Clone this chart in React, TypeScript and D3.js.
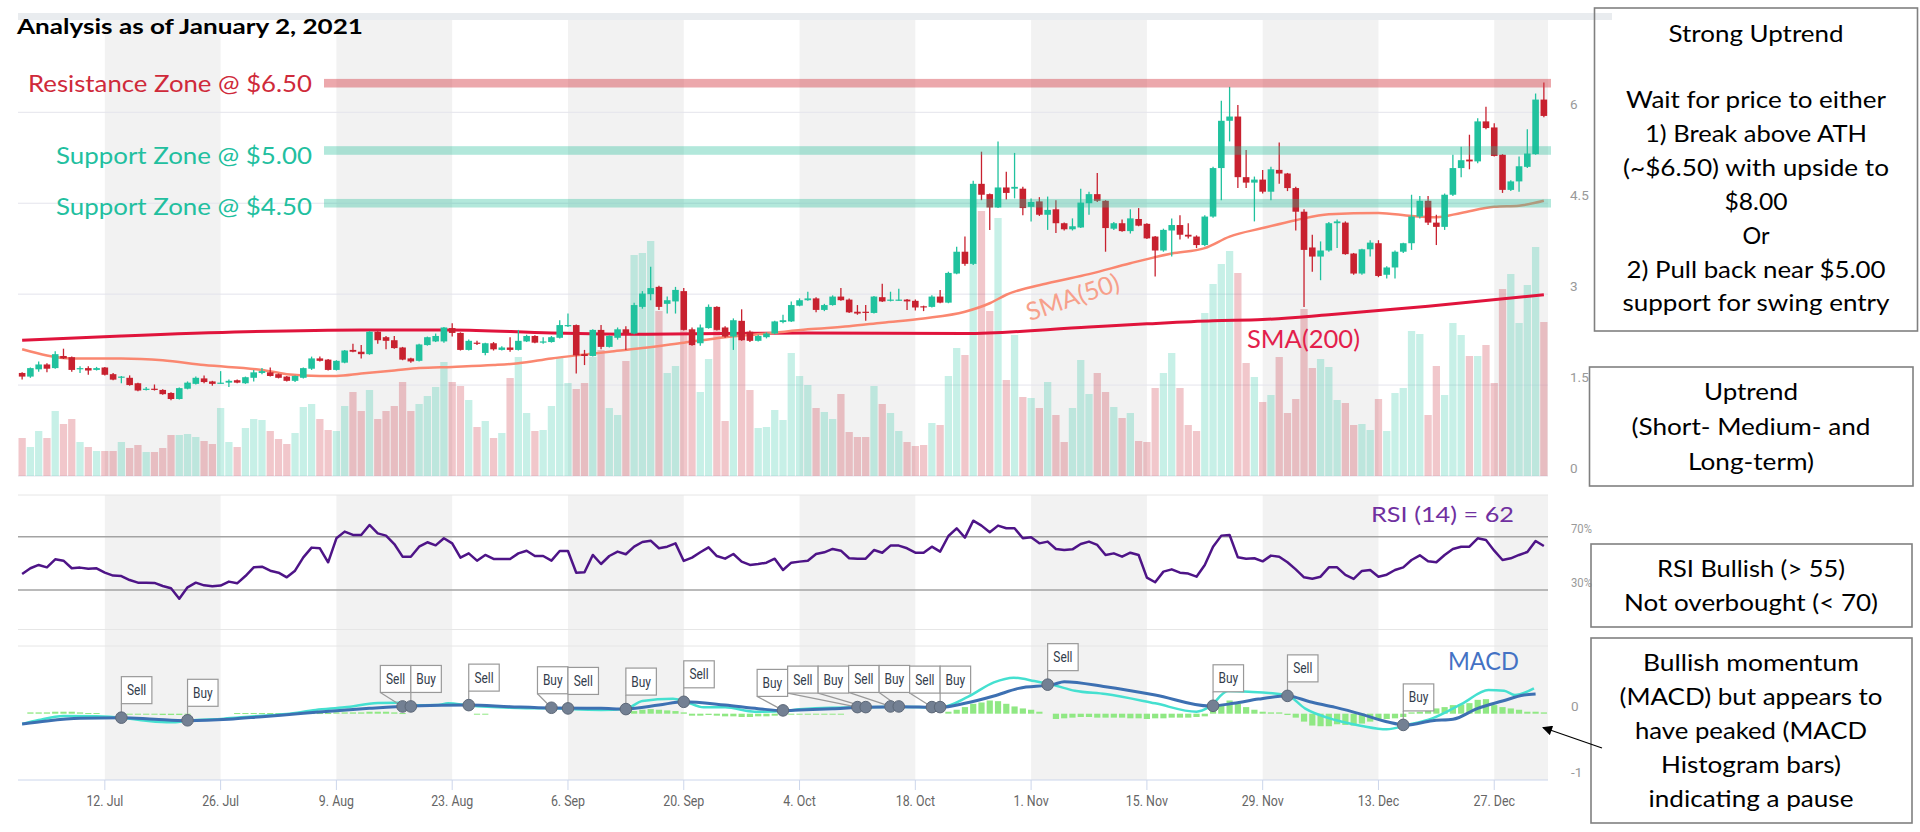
import React from 'react';
import * as d3 from 'd3';

// ---------------- DATA ----------------
const START = Date.UTC(2020, 6, 2); // first candle: 2 Jul 2020
const DAY = 86400000;

const opens = [1.70,1.64,1.76,1.84,1.78,1.98,1.96,1.76,1.78,1.75,1.79,1.68,1.62,1.62,1.53,1.42,1.44,1.42,1.37,1.27,1.44,1.52,1.61,1.56,1.53,1.54,1.58,1.53,1.62,1.70,1.71,1.68,1.64,1.57,1.62,1.77,1.94,1.92,1.75,1.87,2.08,2.05,2.01,2.38,2.29,2.24,2.12,1.94,1.90,2.16,2.22,2.22,2.44,2.36,2.08,2.20,2.03,2.19,2.08,2.12,2.08,2.22,2.31,2.20,2.21,2.28,2.48,2.49,2.01,1.98,2.41,2.13,2.28,2.42,2.35,2.79,3.00,3.12,2.84,2.88,3.05,2.42,2.19,2.44,2.79,2.45,2.30,2.56,2.38,2.23,2.29,2.35,2.54,2.55,2.81,2.90,2.93,2.74,2.82,2.96,2.91,2.71,2.71,2.69,2.95,2.89,2.90,2.91,2.89,2.80,2.79,2.96,2.86,3.34,3.70,3.50,4.82,4.65,4.43,4.76,4.74,4.74,4.44,4.53,4.31,4.40,4.17,4.07,4.10,4.50,4.65,4.54,4.08,4.17,4.04,4.24,4.16,3.95,3.72,4.05,4.14,3.98,3.95,3.81,4.28,5.08,5.86,5.93,4.93,4.84,4.89,4.69,5.05,4.99,4.75,4.36,3.77,3.62,3.72,4.17,4.18,3.67,3.34,3.74,3.84,3.32,3.44,3.70,3.84,4.28,4.54,4.18,4.11,4.64,5.08,5.22,5.19,5.85,5.75,5.30,4.72,4.86,5.10,5.31,6.21];
const highs = [1.71,1.79,1.89,1.86,2.06,2.10,1.97,1.81,1.81,1.80,1.80,1.70,1.65,1.66,1.54,1.47,1.51,1.43,1.38,1.46,1.56,1.64,1.66,1.57,1.73,1.59,1.59,1.64,1.75,1.78,1.79,1.69,1.65,1.66,1.79,1.97,1.97,1.93,1.91,2.08,2.18,2.16,2.39,2.39,2.31,2.31,2.13,1.95,2.18,2.30,2.35,2.46,2.52,2.37,2.25,2.23,2.20,2.21,2.14,2.29,2.41,2.33,2.32,2.29,2.31,2.57,2.68,2.50,2.08,2.42,2.49,2.32,2.45,2.47,2.86,3.05,3.45,3.14,2.96,3.12,3.10,2.45,2.50,2.83,2.80,2.47,2.60,2.75,2.40,2.33,2.37,2.56,2.66,2.88,2.93,3.04,2.95,2.84,2.98,3.10,2.93,2.82,2.82,2.97,3.17,3.04,3.09,2.92,2.91,2.81,2.98,3.07,3.37,3.78,3.95,4.87,5.35,4.66,5.52,5.02,5.33,4.77,4.58,4.60,4.61,4.55,4.18,4.25,4.74,4.69,5.00,4.55,4.19,4.23,4.40,4.42,4.17,3.96,4.08,4.25,4.30,4.17,3.97,4.30,5.10,6.19,6.42,6.12,5.38,4.94,5.05,5.10,5.50,5.00,4.77,4.40,3.98,3.87,4.19,4.23,4.20,3.68,3.75,3.89,3.89,3.46,3.72,3.85,4.64,4.62,4.62,4.31,4.66,5.30,5.43,5.63,5.90,6.09,5.82,5.31,4.88,5.27,5.72,6.31,6.49];
const lows = [1.59,1.62,1.72,1.71,1.77,1.93,1.72,1.70,1.67,1.74,1.66,1.58,1.53,1.49,1.40,1.41,1.41,1.34,1.25,1.26,1.43,1.51,1.53,1.49,1.52,1.47,1.53,1.52,1.56,1.68,1.64,1.61,1.56,1.55,1.61,1.75,1.89,1.74,1.74,1.86,2.04,1.94,2.00,2.18,2.09,2.10,1.91,1.87,1.89,2.15,2.21,2.20,2.30,2.07,2.07,2.16,1.99,2.07,2.07,2.05,2.07,2.21,2.19,2.18,2.20,2.27,2.46,1.69,1.83,1.97,2.09,2.12,2.25,2.08,2.34,2.76,2.90,2.74,2.68,2.68,2.40,2.15,2.15,2.43,2.40,2.28,2.08,2.23,2.21,2.22,2.27,2.34,2.52,2.54,2.80,2.89,2.70,2.72,2.81,2.89,2.69,2.66,2.56,2.68,2.87,2.88,2.89,2.74,2.73,2.72,2.78,2.85,2.85,3.33,3.47,3.48,4.55,4.06,4.42,4.56,4.58,4.30,4.20,4.29,4.06,4.01,4.05,4.05,4.09,4.31,4.52,3.70,4.06,4.03,4.00,4.12,3.91,3.29,3.70,3.62,3.90,3.92,3.76,3.79,4.26,4.55,5.52,4.75,4.75,4.20,4.66,4.55,4.82,4.70,4.05,2.79,3.37,3.23,3.70,3.76,3.65,3.32,3.32,3.62,3.28,3.26,3.26,3.68,3.73,4.25,4.14,3.81,4.06,4.62,4.93,5.06,5.16,5.72,5.27,4.67,4.70,4.69,5.08,5.30,5.92];
const closes = [1.64,1.78,1.84,1.77,2.01,1.94,1.75,1.78,1.74,1.78,1.67,1.59,1.64,1.50,1.41,1.44,1.42,1.35,1.27,1.45,1.54,1.62,1.55,1.52,1.54,1.57,1.54,1.63,1.71,1.73,1.65,1.62,1.57,1.65,1.78,1.94,1.90,1.75,1.90,2.07,2.05,2.01,2.38,2.24,2.23,2.11,1.92,1.89,2.17,2.29,2.31,2.45,2.36,2.08,2.23,2.18,2.19,2.09,2.12,2.08,2.23,2.31,2.20,2.22,2.29,2.49,2.49,1.99,1.98,2.41,2.13,2.31,2.42,2.35,2.82,3.01,3.10,2.79,2.90,3.07,2.41,2.16,2.45,2.79,2.41,2.30,2.57,2.24,2.23,2.31,2.35,2.55,2.57,2.82,2.90,2.93,2.74,2.82,2.96,2.90,2.70,2.68,2.69,2.96,2.88,2.91,2.91,2.88,2.78,2.78,2.96,2.86,3.35,3.70,3.50,4.82,4.64,4.43,4.76,4.67,4.77,4.42,4.52,4.31,4.39,4.17,4.07,4.12,4.51,4.65,4.54,4.09,4.17,4.04,4.25,4.13,3.92,3.72,4.06,4.14,3.98,3.95,3.81,4.28,5.08,5.86,5.93,4.93,4.84,4.89,4.69,5.06,4.99,4.75,4.36,3.73,3.62,3.72,4.17,4.20,3.66,3.34,3.74,3.85,3.30,3.44,3.70,3.84,4.28,4.54,4.18,4.11,4.64,5.08,5.21,5.19,5.85,5.74,5.28,4.72,4.86,5.11,5.32,6.21,5.94];
const volumes = [38,29,45,38,65,52,57,34,29,25,25,25,34,28,31,24,24,28,41,41,42,39,35,32,68,34,29,48,57,56,45,37,32,43,69,72,57,46,45,70,84,65,86,57,65,70,94,65,72,80,89,114,94,90,76,49,55,38,43,98,119,63,45,46,70,119,93,87,93,119,126,68,61,115,221,223,235,165,103,110,146,131,84,117,146,55,144,141,86,48,49,66,56,123,100,91,68,64,57,82,44,39,39,90,72,63,45,34,30,31,53,51,100,128,121,213,265,165,258,96,141,79,78,68,94,61,34,68,116,82,103,84,69,58,63,35,34,88,103,123,88,51,45,163,192,212,225,203,113,99,74,81,119,63,77,167,108,117,109,76,73,51,52,46,77,45,83,88,145,142,61,110,81,153,141,120,120,131,93,187,202,153,191,229,154];

const rsi = [42.0,46.3,48.8,47.0,53.0,52.0,46.3,46.8,46.0,46.3,43.0,40.8,40.5,37.5,35.5,35.5,35.3,33.0,31.3,23.5,32.0,35.5,33.5,32.8,33.3,36.3,35.0,40.5,47.0,47.5,44.5,43.0,39.5,44.5,54.5,61.8,61.3,50.8,68.8,73.8,71.3,71.3,78.8,72.5,70.8,64.5,55.0,55.0,62.5,65.8,63.5,68.8,65.0,54.3,57.5,52.0,56.3,53.3,53.3,53.3,57.5,59.5,55.5,55.5,52.0,59.3,59.3,43.0,43.3,56.3,49.5,55.5,58.8,56.8,62.5,66.0,67.0,61.3,62.5,65.0,51.8,54.3,58.3,62.0,55.5,53.5,57.0,51.3,48.8,49.5,50.5,53.5,45.0,50.5,51.3,52.0,57.0,58.3,60.8,59.5,53.8,53.5,53.5,60.0,58.0,63.3,63.3,61.3,58.0,58.0,62.5,58.8,70.5,76.3,69.3,82.0,78.3,73.3,78.3,76.3,76.3,68.8,69.5,65.0,66.3,60.8,60.0,60.5,64.5,66.3,63.8,56.3,57.5,55.0,58.0,56.3,39.3,35.8,43.8,45.5,43.0,42.3,40.0,48.8,62.5,70.8,71.3,54.5,53.5,53.8,51.5,55.8,55.0,50.8,45.5,39.5,38.5,40.0,47.0,47.0,41.3,38.3,44.3,45.0,40.0,41.5,45.0,47.0,52.5,56.0,51.5,50.8,56.3,60.8,62.5,62.5,68.8,67.5,59.5,52.5,53.8,56.3,58.5,66.8,63.0];

const histogram = [0.00,0.02,0.02,0.02,0.03,0.03,0.03,0.02,0.01,0.01,0.00,0.00,0.00,-0.01,-0.01,-0.01,-0.01,-0.02,-0.02,-0.02,-0.01,0.00,0.00,0.00,0.00,0.00,0.01,0.01,0.01,0.01,0.01,0.01,0.00,0.00,0.01,0.01,0.01,0.01,0.02,0.02,0.02,0.02,0.03,0.03,0.03,0.02,0.01,0.00,0.00,0.00,0.00,0.00,0.00,0.00,0.00,-0.01,-0.01,0.00,0.00,0.00,0.00,0.00,0.00,0.00,0.00,0.00,0.00,0.00,0.00,0.00,0.00,0.00,0.00,0.02,0.04,0.06,0.07,0.06,0.05,0.04,0.02,-0.03,-0.03,-0.02,-0.03,-0.04,-0.04,-0.05,-0.05,-0.04,-0.04,-0.03,-0.01,-0.01,-0.01,-0.01,-0.01,-0.01,-0.01,-0.01,0.00,0.00,0.00,0.00,0.00,0.00,0.00,0.00,0.00,0.00,0.00,0.00,0.03,0.06,0.10,0.15,0.17,0.20,0.19,0.15,0.11,0.08,0.06,0.03,0.00,-0.08,-0.07,-0.06,-0.05,-0.05,-0.06,-0.06,-0.06,-0.06,-0.07,-0.07,-0.08,-0.07,-0.07,-0.06,-0.06,-0.06,-0.05,-0.04,0.05,0.12,0.20,0.15,0.10,0.06,0.03,0.02,0.02,-0.02,-0.06,-0.12,-0.18,-0.19,-0.19,-0.16,-0.17,-0.18,-0.15,-0.12,-0.09,-0.08,-0.07,-0.05,0.02,0.03,0.05,0.08,0.10,0.13,0.14,0.16,0.21,0.22,0.13,0.10,0.08,0.06,0.03,0.03,0.02];

const macdIdx = [0,2,5,9,12,15,18,20,24.4,28,32,35.5,39,43,45.4,47,50.3,51.5,54,59,62.6,64,66.7,70,73,75,78.7,80.2,82.4,85,88.6,92.4,94,97.7,102,105,111,114.4,117.5,119.9,122.4,124.7,127.3,131,137,142,143.6,145.8,148.3,152.9,155.1,158.8,162,165,167.4,170.5,174.2,177.3,179.2,180.5,182.8];
const macdVal = [-0.156,-0.096,-0.035,-0.04,-0.06,-0.106,-0.131,-0.106,-0.075,-0.04,-0.005,0.056,0.096,0.162,0.167,0.126,0.131,0.157,0.126,0.091,0.081,0.086,0.066,0.056,0.076,0.192,0.227,0.182,0.096,0.096,0.030,0.046,0.066,0.091,0.096,0.106,0.096,0.258,0.475,0.545,0.495,0.434,0.348,0.298,0.157,0.030,0.106,0.343,0.333,0.283,0.081,-0.096,-0.187,-0.237,-0.172,-0.070,0.157,0.359,0.348,0.283,0.384];
const signalIdx = [0,3,7,12,16,20,25,29,34,38,42,47,54,59,64,70,73,77,80,85,89,92,94,98,102,106,111,114,117.5,120.5,124.7,126,131,137,143.6,146.5,149.5,153,155.7,158.8,162,165,167.4,170.5,173,176,179,181.6,183];
const signalVal = [-0.156,-0.11,-0.07,-0.06,-0.085,-0.106,-0.085,-0.045,0.005,0.046,0.081,0.116,0.131,0.106,0.086,0.081,0.071,0.131,0.182,0.131,0.076,0.046,0.056,0.076,0.096,0.106,0.096,0.157,0.268,0.384,0.444,0.485,0.409,0.283,0.116,0.157,0.222,0.268,0.182,0.096,-0.010,-0.121,-0.172,-0.106,-0.085,0.081,0.192,0.283,0.30];

const sma50Idx = [0,6,12,17,22,29,32,36,38,41,45,48,52,57,60,64,67,71,75,80,85,90,95,100,104,109,114,117,119,124,129,134,139,143,146,150,154,158,164,168,171,174,178,181,184];
const sma50Val = [2.09,1.94,1.94,1.91,1.83,1.75,1.68,1.65,1.65,1.69,1.74,1.78,1.80,1.83,1.86,1.94,1.99,2.05,2.11,2.20,2.29,2.35,2.42,2.47,2.53,2.60,2.71,2.85,2.99,3.18,3.33,3.51,3.67,3.76,3.95,4.09,4.22,4.32,4.34,4.29,4.27,4.34,4.44,4.46,4.54];
const sma200Idx = [0,12,27,41,52,64,75,95,114,129,136,144,150,158,170,184];
const sma200Val = [2.24,2.31,2.38,2.41,2.41,2.36,2.34,2.36,2.35,2.46,2.51,2.56,2.58,2.66,2.80,2.99];

const flagTypes = ['Sell','Buy','Sell','Buy','Sell','Buy','Sell','Buy','Sell','Buy','Sell','Buy','Sell','Buy','Sell','Buy','Sell','Buy','Sell','Buy'];
const flagIdx = [12,20,46,47,54,64,66,73,80,92,101,102,105,106,110,111,124,144,153,167];
const flagVal = [-0.06,-0.10,0.11,0.11,0.13,0.09,0.08,0.07,0.18,0.05,0.10,0.10,0.11,0.11,0.10,0.10,0.44,0.12,0.27,-0.17];

const zoneLevels = [6.48, 5.37, 4.50];
const zoneLabels = ['Resistance Zone @ $6.50', 'Support Zone @ $5.00', 'Support Zone @ $4.50'];
const priceTicks = [0, 1.5, 3, 4.5, 6];
const rsiTicks = [70, 30];
const macdTicks = [0, -1];

// ---------------- LAYOUT ----------------
const W = 1920, H = 832;
const PL = 18, PR = 1548;
const GREEN = '#20c29e', RED = '#c8212f';

const dateOf = (i: number) => new Date(START + i * DAY);
const x = d3.scaleUtc().domain([new Date(START - DAY / 2), new Date(START + 184 * DAY + DAY / 2)]).range([PL, PR]);
const dayW = x(dateOf(1)) - x(dateOf(0));
const priceY = d3.scaleLinear().domain([0, 6]).range([476, 112.3]);
const volY = d3.scaleLinear().domain([0, 300]).range([476, 176]);
const rsiY = d3.scaleLinear().domain([0, 100]).range([630, 496.7]);
const macdY = d3.scaleLinear().domain([-1, 1]).range([779.7, 647.7]);

const tickDates = d3.range(13).map(k => new Date(Date.UTC(2020, 6, 12) + k * 14 * DAY));
const fmt = d3.utcFormat('%-d. %b');

const FONT = "Lato, 'Open Sans', sans-serif";
const AX = "Roboto, 'Noto Sans', sans-serif";

const boxes = [
  { x0: 1594.5, y0: 8, x1: 1917.5, y1: 331, cx: 1756, lines: [
    ['Strong Uptrend', 41.5, 175], ['Wait for price to either', 108, 260], ['1) Break above ATH', 142, 222],
    ['(~$6.50) with upside to', 176, 266], ['$8.00', 210, 63], ['Or', 244, 27], ['2) Pull back near $5.00', 277.5, 259],
    ['support for swing entry', 311, 267]] },
  { x0: 1589.5, y0: 367, x1: 1913, y1: 486, cx: 1751, lines: [
    ['Uptrend', 400, 94], ['(Short- Medium- and', 435, 239], ['Long-term)', 470, 126]] },
  { x0: 1591, y0: 544, x1: 1912, y1: 627, cx: 1751, lines: [
    ['RSI Bullish (> 55)', 577, 188], ['Not overbought (< 70)', 611, 254]] },
  { x0: 1591, y0: 638, x1: 1912, y1: 823, cx: 1751, lines: [
    ['Bullish momentum', 671, 216], ['(MACD) but appears to', 705, 263], ['have peaked (MACD', 739, 232],
    ['Histogram bars)', 773, 180], ['indicating a pause', 807, 205]] },
];

export default function App() {
  const rsiLine = d3.line<number>().x((_, i) => x(dateOf(i))).y(v => rsiY(v))(rsi) || '';
  const mkCurve = (idx: number[], vals: number[], ys: d3.ScaleLinear<number, number>) =>
    d3.line<number>().x((_, k) => x(dateOf(idx[k]))).y(v => ys(v)).curve(d3.curveMonotoneX)(vals) || '';
  const macdPath = mkCurve(macdIdx, macdVal, macdY);
  const signalPath = mkCurve(signalIdx, signalVal, macdY);
  const sma50Path = mkCurve(sma50Idx, sma50Val, priceY);
  const sma200Path = mkCurve(sma200Idx, sma200Val, priceY);

  // flag layout: right-to-left packing
  const FW = 30.5, FH = 27, GAP = 14;
  const anchors = flagIdx.map(i => x(dateOf(i)));
  const lefts: number[] = new Array(anchors.length);
  for (let k = anchors.length - 1; k >= 0; k--) {
    lefts[k] = k === anchors.length - 1 ? anchors[k] : Math.min(anchors[k], lefts[k + 1] - FW);
  }

  const bands: [number, number][] = [];
  for (let k = 0; k < tickDates.length; k += 2) {
    const a = x(tickDates[k]);
    const b = k + 1 < tickDates.length ? x(tickDates[k + 1]) : PR;
    bands.push([a, Math.min(b, PR)]);
  }

  return (
    <svg width={W} height={H} style={{ position: 'absolute', left: 0, top: 0, background: '#fff' }}>
      <rect x={0} y={0} width={W} height={H} fill="#fff" />
      {/* top strip */}
      <rect x={PL} y={13} width={1612 - PL} height={7} fill="#e9ecef" />
      {/* alternate bands */}
      {bands.map(([a, b], k) => (
        <g key={'b' + k}>
          <rect x={a} y={20} width={b - a} height={456} fill="#f2f2f2" />
          <rect x={a} y={495} width={b - a} height={285} fill="#f2f2f2" />
        </g>
      ))}
      {/* price gridlines */}
      {priceTicks.map(t => (
        <line key={'pg' + t} x1={PL} x2={PR} y1={priceY(t)} y2={priceY(t)} stroke="#e4e4ec" strokeWidth={1} />
      ))}
      {/* pane borders */}
      <line x1={PL} x2={PR} y1={495} y2={495} stroke="#e6e6e6" />
      <line x1={PL} x2={PR} y1={629.5} y2={629.5} stroke="#e6e6e6" />
      <line x1={PL} x2={PR} y1={646} y2={646} stroke="#e6e6e6" />
      <line x1={PL} x2={PR} y1={780} y2={780} stroke="#ccd6eb" />
      {/* volume */}
      {volumes.map((v, i) => {
        const up = closes[i] >= opens[i];
        const cx = x(dateOf(i));
        return <rect key={'v' + i} x={cx - dayW / 2 + 0.5} width={dayW - 1} y={volY(v)} height={volY(0) - volY(v)}
          fill={up ? GREEN : RED} fillOpacity={0.25} />;
      })}
      {/* SMA lines */}
      <path d={sma200Path} fill="none" stroke="#e0143c" strokeWidth={3} />
      <path d={sma50Path} fill="none" stroke="#fa8770" strokeWidth={2.5} />
      {/* candles */}
      {opens.map((o, i) => {
        const c = closes[i];
        const up = c >= o;
        const cx = x(dateOf(i));
        const col = up ? GREEN : RED;
        const yt = priceY(Math.max(o, c));
        const yb = priceY(Math.min(o, c));
        return (
          <g key={'c' + i}>
            <line x1={cx} x2={cx} y1={priceY(highs[i])} y2={priceY(lows[i])} stroke={col} strokeWidth={1.3} />
            <rect x={cx - 3.3} y={yt} width={6.6} height={Math.max(1.2, yb - yt)} fill={col} />
          </g>
        );
      })}
      {/* zones */}
      {zoneLevels.map((z, k) => (
        <rect key={'z' + k} x={324} width={1551 - 324} y={priceY(z) - 4.3} height={8.6}
          fill={k === 0 ? 'rgb(212,62,72)' : 'rgb(34,190,152)'} fillOpacity={k === 0 ? 0.45 : 0.35} />
      ))}
      {zoneLabels.map((t, k) => (
        <text key={'zl' + k} x={312} y={[92, 163.5, 215][k]} textAnchor="end" fontFamily={FONT} fontSize={24}
          fill={k === 0 ? '#cf2a3a' : '#22bf9f'} textLength={k === 0 ? 284 : 256} lengthAdjust="spacingAndGlyphs">{t}</text>
      ))}
      {/* title */}
      <text x={17} y={33.5} fontFamily={FONT} fontWeight={700} fontSize={21} fill="#000" textLength={346} lengthAdjust="spacingAndGlyphs">Analysis as of January 2, 2021</text>
      {/* SMA labels */}
      <text transform="translate(1073,298) rotate(-19)" y={8} textAnchor="middle" fontFamily={FONT} fontSize={25} fill="#f7a08b" textLength={97} lengthAdjust="spacingAndGlyphs">SMA(50)</text>
      <text x={1247} y={348} fontFamily={FONT} fontSize={25} fill="#e31f4c" textLength={113} lengthAdjust="spacingAndGlyphs">SMA(200)</text>
      {/* price axis labels */}
      {priceTicks.map(t => (
        <text key={'pl' + t} x={1570} y={priceY(t) - 3} fontFamily={AX} fontSize={13.5} fill="#999">{String(t)}</text>
      ))}
      {/* RSI */}
      {rsiTicks.map(t => (
        <line key={'rl' + t} x1={PL} x2={PR} y1={rsiY(t)} y2={rsiY(t)} stroke="#a3a3a3" strokeWidth={1.6} />
      ))}
      <path d={rsiLine} fill="none" stroke="#4e1487" strokeWidth={2.5} strokeLinejoin="round" />
      {rsiTicks.map(t => (
        <text key={'rt' + t} transform={`translate(1571,${rsiY(t) - 3.2}) scale(0.9,1)`} fontFamily={AX} fontSize={12.5} fill="#999">{t + '%'}</text>
      ))}
      <text x={1371} y={522} fontFamily={FONT} fontSize={22} fill="#7030a0" textLength={143} lengthAdjust="spacingAndGlyphs">RSI (14) = 62</text>
      {/* MACD histogram */}
      {histogram.map((h, i) => {
        if (h === 0) return null;
        const cx = x(dateOf(i));
        const y0 = macdY(0), y1 = macdY(h);
        return <rect key={'h' + i} x={cx - 3.1} width={6.2} y={Math.min(y0, y1)} height={Math.max(1, Math.abs(y1 - y0))} fill="#90e884" />;
      })}
      <path d={macdPath} fill="none" stroke="#45e0d0" strokeWidth={2.5} />
      <path d={signalPath} fill="none" stroke="#3d70b2" strokeWidth={3} />
      {macdTicks.map(t => (
        <text key={'mt' + t} x={1571} y={macdY(t) - 3} fontFamily={AX} fontSize={13.5} fill="#999">{String(t)}</text>
      ))}
      <text x={1448} y={670} fontFamily={FONT} fontSize={25} fill="#4472c4" textLength={71} lengthAdjust="spacingAndGlyphs">MACD</text>
      {/* flags */}
      {flagTypes.map((t, k) => {
        const cx = anchors[k];
        const cy = macdY(flagVal[k]);
        const left = lefts[k];
        const bottom = cy - GAP;
        return <line key={'fp' + k} x1={left} y1={bottom} x2={cx} y2={cy} stroke="#999" strokeWidth={1.2} />;
      })}
      {flagTypes.map((t, k) => {
        const cx = anchors[k];
        const cy = macdY(flagVal[k]);
        return <circle key={'fc' + k} cx={cx} cy={cy} r={5.8} fill="#738093" stroke="#5d6878" strokeWidth={1} />;
      })}
      {flagTypes.map((t, k) => {
        const cy = macdY(flagVal[k]);
        const left = lefts[k];
        const bottom = cy - GAP;
        return (
          <g key={'fb' + k}>
            <rect x={left} y={bottom - FH} width={FW} height={FH} fill="#fff" stroke="#999" strokeWidth={1.2} />
            <text transform={`translate(${left + FW / 2},${bottom - 8.5}) scale(0.85,1)`} textAnchor="middle"
              fontFamily={AX} fontSize={14} fill="#333d4c">{t}</text>
          </g>
        );
      })}
      {/* x axis */}
      {tickDates.map((d, k) => (
        <g key={'xt' + k}>
          <line x1={x(d)} x2={x(d)} y1={780} y2={790} stroke="#ccd6eb" />
          <text transform={`translate(${x(d)},806) scale(0.8,1)`} textAnchor="middle" fontFamily={AX} fontSize={15.5} fill="#666">{fmt(d)}</text>
        </g>
      ))}
      {/* text boxes */}
      {boxes.map((b, k) => (
        <g key={'bx' + k}>
          <rect x={b.x0} y={b.y0} width={b.x1 - b.x0} height={b.y1 - b.y0} fill="none" stroke="#808080" strokeWidth={1.6} />
          {b.lines.map((l, j) => (
            <text key={j} x={b.cx} y={l[1] as number} textAnchor="middle" fontFamily={FONT} fontSize={24} fill="#000"
              textLength={l[2] as number} lengthAdjust="spacingAndGlyphs">{l[0] as string}</text>
          ))}
        </g>
      ))}
      {/* arrow */}
      <defs>
        <marker id="ah" viewBox="0 0 10 10" refX="9" refY="5" markerWidth="12" markerHeight="10" markerUnits="userSpaceOnUse" orient="auto">
          <path d="M0,0 L10,5 L0,10 z" fill="#000" />
        </marker>
      </defs>
      <line x1={1602} y1={748} x2={1543} y2={727.5} stroke="#000" strokeWidth={1.2} markerEnd="url(#ah)" />
    </svg>
  );
}
